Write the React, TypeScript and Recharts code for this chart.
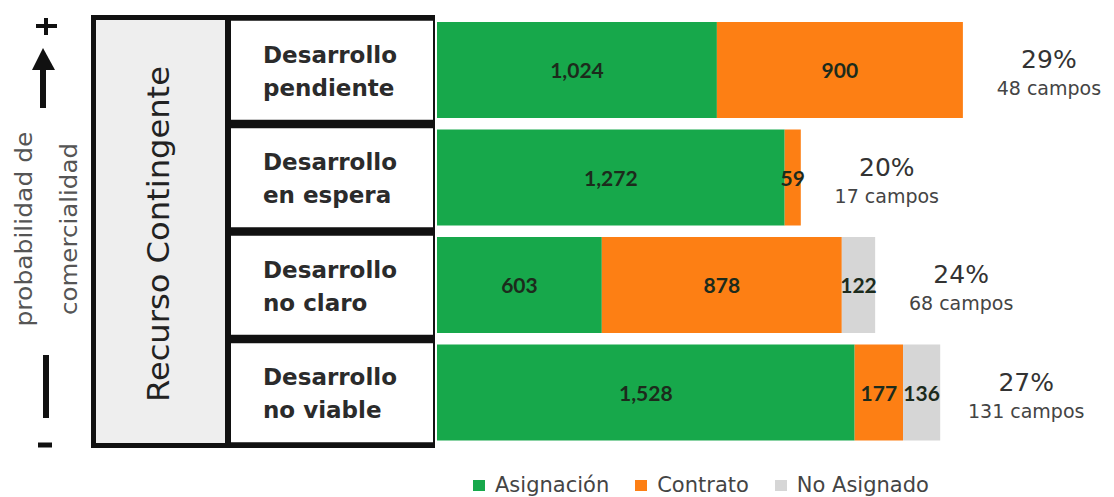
import { Bar, BarChart, LabelList, Legend, XAxis, YAxis } from "recharts"

const categories = ["Desarrollo pendiente", "Desarrollo en espera", "Desarrollo no claro", "Desarrollo no viable"]
const asignacion = [1024, 1272, 603, 1528]
const contrato = [900, 59, 878, 177]
const noAsignado = [0, 0, 122, 136]
const shares = ["29%", "20%", "24%", "27%"]
const campos = ["48 campos", "17 campos", "68 campos", "131 campos"]

const seriesNames = ["Asignación", "Contrato", "No Asignado"]
const colors = ["#17a84b", "#fd7f14", "#d6d6d6"]

const data = categories.map((name, i) => ({
  name,
  asignacion: asignacion[i],
  contrato: contrato[i],
  noAsignado: noAsignado[i],
}))

const font = "'DejaVu Sans', sans-serif"
const numFont = "Lato, sans-serif"

function CategoryTick({ x, y, payload }: any) {
  const words = String(payload.value).split(" ")
  const first = words[0]
  const rest = words.slice(1).join(" ")
  return (
    <g>
      <rect x={x - 206} y={y - 49} width={202} height={99} fill="#fff" />
      <text x={x - 174} y={y - 7} fontFamily={font} fontSize={23} fontWeight={700} fill="#2b2b2b">
        {first}
      </text>
      <text x={x - 174} y={y + 26} fontFamily={font} fontSize={23} fontWeight={700} fill="#2b2b2b">
        {rest}
      </text>
    </g>
  )
}

function segmentLabel(props: any) {
  const { x, y, width, height, value } = props
  if (!value) return null
  return (
    <text
      x={x + width / 2}
      y={y + height / 2 + 8}
      textAnchor="middle"
      fontFamily={numFont}
      fontSize={21}
      fontWeight={700}
      fill="#1c2b1c"
    >
      {Number(value).toLocaleString("en-US")}
    </text>
  )
}

// placed after the end of the whole stack, using the contrato segment's own scale
function totalLabel(props: any) {
  const { x, y, width, height, value } = props
  const i = categories.indexOf(String(value))
  if (i < 0) return null
  const perUnit = width / contrato[i]
  const end = x + width + noAsignado[i] * perUnit
  const cx = end + 86
  const cy = y + height / 2
  return (
    <g>
      <text x={cx} y={cy - 2} textAnchor="middle" fontFamily={font} fontSize={25} fill="#333">
        {shares[i]}
      </text>
      <text x={cx} y={cy + 25} textAnchor="middle" fontFamily={font} fontSize={19} fill="#444">
        {campos[i]}
      </text>
    </g>
  )
}

function LegendContent() {
  return (
    <div style={{ display: "flex", gap: 26, fontFamily: font, fontSize: 21, color: "#444", lineHeight: "26px" }}>
      {seriesNames.map((n, i) => (
        <span key={n} style={{ display: "flex", alignItems: "center", gap: 10 }}>
          <span style={{ width: 12, height: 11, background: colors[i], display: "inline-block" }} />
          {n}
        </span>
      ))}
    </div>
  )
}

export default function App() {
  return (
    <div style={{ position: "absolute", left: 0, top: 0, width: 1114, height: 497, background: "#fff" }}>
      <svg width={1114} height={497} style={{ position: "absolute", left: 0, top: 0 }}>
        <rect x={91} y={15} width={344} height={433} fill="#111" />
        <rect x={96} y={20} width={129} height={423} fill="#eeeeee" />
        <text
          transform="translate(169,234) rotate(-90)"
          textAnchor="middle"
          fontFamily={font}
          fontSize={31}
          textLength={336}
          lengthAdjust="spacingAndGlyphs"
          fill="#222"
        >
          Recurso Contingente
        </text>
        <text
          transform="translate(32,229) rotate(-90)"
          textAnchor="middle"
          fontFamily={font}
          fontSize={23}
          textLength={195}
          lengthAdjust="spacingAndGlyphs"
          fill="#555"
        >
          probabilidad de
        </text>
        <text
          transform="translate(77,229) rotate(-90)"
          textAnchor="middle"
          fontFamily={font}
          fontSize={23}
          textLength={172}
          lengthAdjust="spacingAndGlyphs"
          fill="#555"
        >
          comercialidad
        </text>
        <line x1={46} y1={18} x2={46} y2={35} stroke="#111" strokeWidth={4} />
        <line x1={36} y1={26} x2={57} y2={26} stroke="#111" strokeWidth={4} />
        <line x1={43} y1={62} x2={43} y2={108} stroke="#111" strokeWidth={6} />
        <polygon points="43,48 32,70 55,70" fill="#111" />
        <line x1={46} y1={355} x2={46} y2={418} stroke="#111" strokeWidth={6} />
        <line x1={38} y1={445} x2={52} y2={445} stroke="#111" strokeWidth={5} />
      </svg>
      <div style={{ position: "absolute", left: 0, top: 0 }}>
        <BarChart
          width={1114}
          height={497}
          data={data}
          layout="vertical"
          margin={{ top: 16, right: 21, bottom: 51, left: 0 }}
        >
          <XAxis type="number" hide domain={[0, 2400]} />
          <YAxis
            type="category"
            dataKey="name"
            width={437}
            axisLine={false}
            tickLine={false}
            tickSize={0}
            tickMargin={0}
            tick={<CategoryTick />}
          />
          <Legend
            layout="horizontal"
            verticalAlign="middle"
            align="center"
            content={<LegendContent />}
            wrapperStyle={{ top: 472, left: 473, width: "auto" }}
          />
          <Bar dataKey="asignacion" name="Asignación" stackId="a" fill={colors[0]} barSize={96} isAnimationActive={false}>
            <LabelList dataKey="asignacion" content={segmentLabel} />
          </Bar>
          <Bar dataKey="contrato" name="Contrato" stackId="a" fill={colors[1]} barSize={96} isAnimationActive={false}>
            <LabelList dataKey="contrato" content={segmentLabel} />
            <LabelList dataKey="name" content={totalLabel} />
          </Bar>
          <Bar dataKey="noAsignado" name="No Asignado" stackId="a" fill={colors[2]} barSize={96} isAnimationActive={false}>
            <LabelList dataKey="noAsignado" content={segmentLabel} />
          </Bar>
        </BarChart>
      </div>
    </div>
  )
}
